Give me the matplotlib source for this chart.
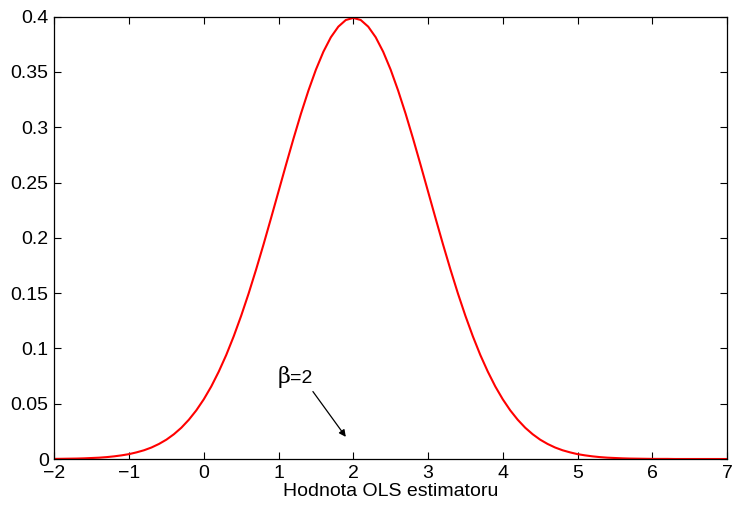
import matplotlib
matplotlib.use("Agg")
import matplotlib.pyplot as plt

x_vals = [-2.0, -1.9, -1.8, -1.7, -1.6, -1.5, -1.4, -1.3, -1.2, -1.1,
          -1.0, -0.9, -0.8, -0.7, -0.6, -0.5, -0.4, -0.3, -0.2, -0.1,
          0.0, 0.1, 0.2, 0.3, 0.4, 0.5, 0.6, 0.7, 0.8, 0.9,
          1.0, 1.1, 1.2, 1.3, 1.4, 1.5, 1.6, 1.7, 1.8, 1.9,
          2.0, 2.1, 2.2, 2.3, 2.4, 2.5, 2.6, 2.7, 2.8, 2.9,
          3.0, 3.1, 3.2, 3.3, 3.4, 3.5, 3.6, 3.7, 3.8, 3.9,
          4.0, 4.1, 4.2, 4.3, 4.4, 4.5, 4.6, 4.7, 4.8, 4.9,
          5.0, 5.1, 5.2, 5.3, 5.4, 5.5, 5.6, 5.7, 5.8, 5.9,
          6.0, 6.1, 6.2, 6.3, 6.4, 6.5, 6.6, 6.7, 6.8, 6.9, 7.0]
density = [0.0001, 0.0002, 0.0003, 0.0004, 0.0006, 0.0009, 0.0012, 0.0017, 0.0024, 0.0033,
           0.0044, 0.0060, 0.0079, 0.0104, 0.0136, 0.0175, 0.0224, 0.0283, 0.0355, 0.0440,
           0.0540, 0.0656, 0.0790, 0.0940, 0.1109, 0.1295, 0.1497, 0.1714, 0.1942, 0.2179,
           0.2420, 0.2661, 0.2897, 0.3123, 0.3332, 0.3521, 0.3683, 0.3814, 0.3910, 0.3970,
           0.3989, 0.3970, 0.3910, 0.3814, 0.3683, 0.3521, 0.3332, 0.3123, 0.2897, 0.2661,
           0.2420, 0.2179, 0.1942, 0.1714, 0.1497, 0.1295, 0.1109, 0.0940, 0.0790, 0.0656,
           0.0540, 0.0440, 0.0355, 0.0283, 0.0224, 0.0175, 0.0136, 0.0104, 0.0079, 0.0060,
           0.0044, 0.0033, 0.0024, 0.0017, 0.0012, 0.0009, 0.0006, 0.0004, 0.0003, 0.0002,
           0.0001, 0.0001, 0.0001, 0.0000, 0.0000, 0.0000, 0.0000, 0.0000, 0.0000, 0.0000, 0.0000]

x_ticks = [-2, -1, 0, 1, 2, 3, 4, 5, 6, 7]
x_tick_labels = ["\u22122", "\u22121", "0", "1", "2", "3", "4", "5", "6", "7"]
y_ticks = [0, 0.05, 0.1, 0.15, 0.2, 0.25, 0.3, 0.35, 0.4]
y_tick_labels = ["0", "0.05", "0.1", "0.15", "0.2", "0.25", "0.3", "0.35", "0.4"]
x_label = "Hodnota OLS estimatoru"
annot_beta = "\u03b2"
annot_rest = "=2"
annot_xy = (1.90, 0.020)
annot_text_xy = (1.155, 0.074)

plt.rcParams['font.family'] = ['Liberation Sans', 'DejaVu Sans']

W, H = 735, 505
fig = plt.figure(figsize=(W / 100, H / 100), dpi=100)
L, R, T, B = 54.3, 727, 16.7, 459
ax = fig.add_axes([L / W, 1 - B / H, (R - L) / W, (B - T) / H])

ax.plot(x_vals, density, color='red', linewidth=1.5)
ax.set_xlim(-2, 7)
ax.set_ylim(0, 0.4)
ax.set_xticks(x_ticks)
ax.set_xticklabels(x_tick_labels)
ax.set_yticks(y_ticks)
ax.set_yticklabels(y_tick_labels)
ax.tick_params(direction='in', length=5, width=0.8, top=True, right=True,
               labelsize=14, pad=4)
for s in ax.spines.values():
    s.set_linewidth(0.9)
ax.set_xlabel(x_label, fontsize=14, labelpad=1)

ax.annotate("", xy=annot_xy, xytext=(1.46, 0.061),
            arrowprops=dict(arrowstyle='-|>', color='black', lw=0.9,
                            mutation_scale=10, shrinkA=0, shrinkB=0))
ax.text(annot_text_xy[0], annot_text_xy[1], annot_beta, fontsize=16,
        family=['DejaVu Serif'], ha='right', va='center')
ax.text(annot_text_xy[0], annot_text_xy[1] - 0.001, annot_rest, fontsize=14,
        ha='left', va='center')

fig.savefig("out.png", dpi=100)
